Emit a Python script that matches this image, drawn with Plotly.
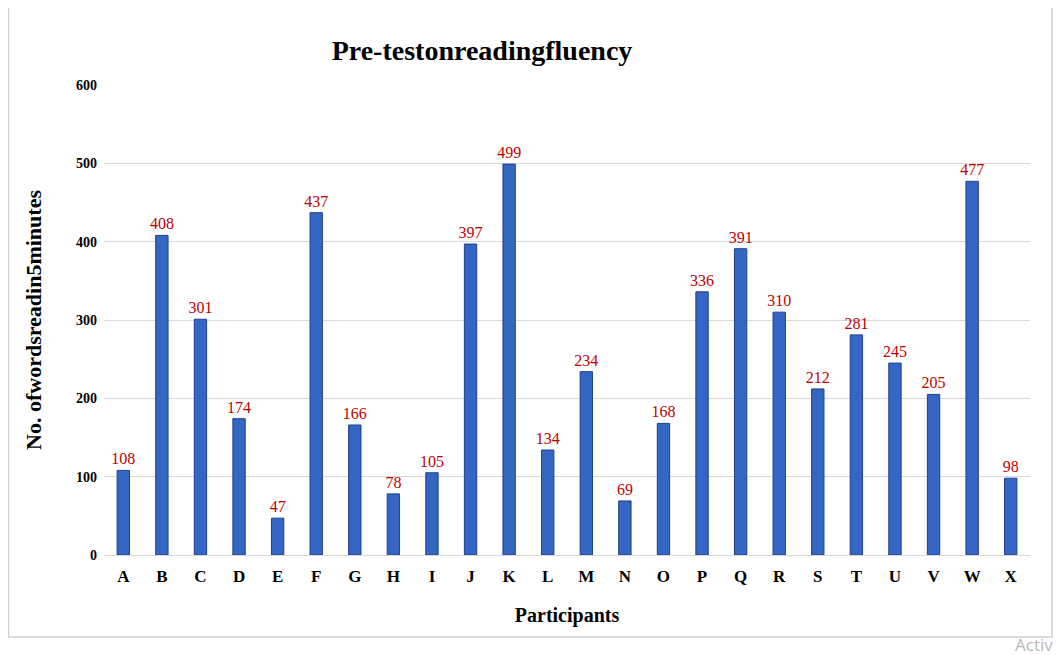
import plotly.graph_objects as go

participants = list("ABCDEFGHIJKLMNOPQRSTUVWX")
words_read = [108, 408, 301, 174, 47, 437, 166, 78, 105, 397, 499, 134, 234,
              69, 168, 336, 391, 310, 212, 281, 245, 205, 477, 98]
y_ticks = [0, 100, 200, 300, 400, 500, 600]

serif = "Liberation Serif, Times New Roman, serif"

# page body adds an 8px margin, so the figure is drawn 8px smaller
W, H = 1053, 647
L, R, T, B = 96, 31, 77, 100
pw, ph = W - L - R, H - T - B

fig = go.Figure()

fig.add_trace(go.Bar(
    x=participants,
    y=words_read,
    text=words_read,
    textposition='outside',
    constraintext='none',
    cliponaxis=False,
    textfont=dict(family=serif, size=16, color='#C00000'),
    marker=dict(color='#3566C4', line=dict(color='#1E3F8C', width=1)),
))

fig.update_layout(
    width=W, height=H,
    margin=dict(l=L, r=R, t=T, b=B),
    paper_bgcolor='white', plot_bgcolor='white',
    bargap=0.68,
    showlegend=False,
    title=dict(
        text="Pre-testonreadingfluency",
        x=474 / W, xanchor='center', xref='container',
        y=1 - 42 / H, yanchor='middle', yref='container',
        font=dict(family=serif, size=28, color='black', weight='bold'),
    ),
    xaxis=dict(
        title=dict(text="Participants", font=dict(family=serif, size=20, color='black', weight='bold'), standoff=22),
        tickfont=dict(family=serif, size=17, color='black', weight='bold'),
        ticklabelstandoff=9,
        showgrid=False, showline=False, ticks='',
    ),
    yaxis=dict(
        title=dict(text="No. ofwordsreadin5minutes", font=dict(family=serif, size=22, color='black', weight='bold'), standoff=28),
        range=[0, 600], tickvals=y_ticks,
        tickfont=dict(family=serif, size=14, color='black', weight='bold'),
        ticklabelstandoff=6,
        showgrid=True, gridcolor='#D9D9D9', gridwidth=1,
        zeroline=True, zerolinecolor='#D9D9D9', zerolinewidth=1,
        ticks='', ticklen=0,
    ),
    shapes=[dict(
        type='rect', xref='paper', yref='paper',
        x0=(0.5 - L) / pw, x1=(1044 - L) / pw,
        y0=(T + ph - 629) / ph, y1=(T + ph + 10) / ph,
        line=dict(color='#D0D0D0', width=1.5), layer='below',
    )],
    annotations=[dict(
        text="Activa", xref='paper', yref='paper',
        x=(1005 - L) / pw, y=(T + ph - 636) / ph,
        xanchor='left', yanchor='middle', showarrow=False,
        font=dict(family="Open Sans, sans-serif", size=17, color='#B8B8B8'),
    )],
)

fig.write_html("out.html")
